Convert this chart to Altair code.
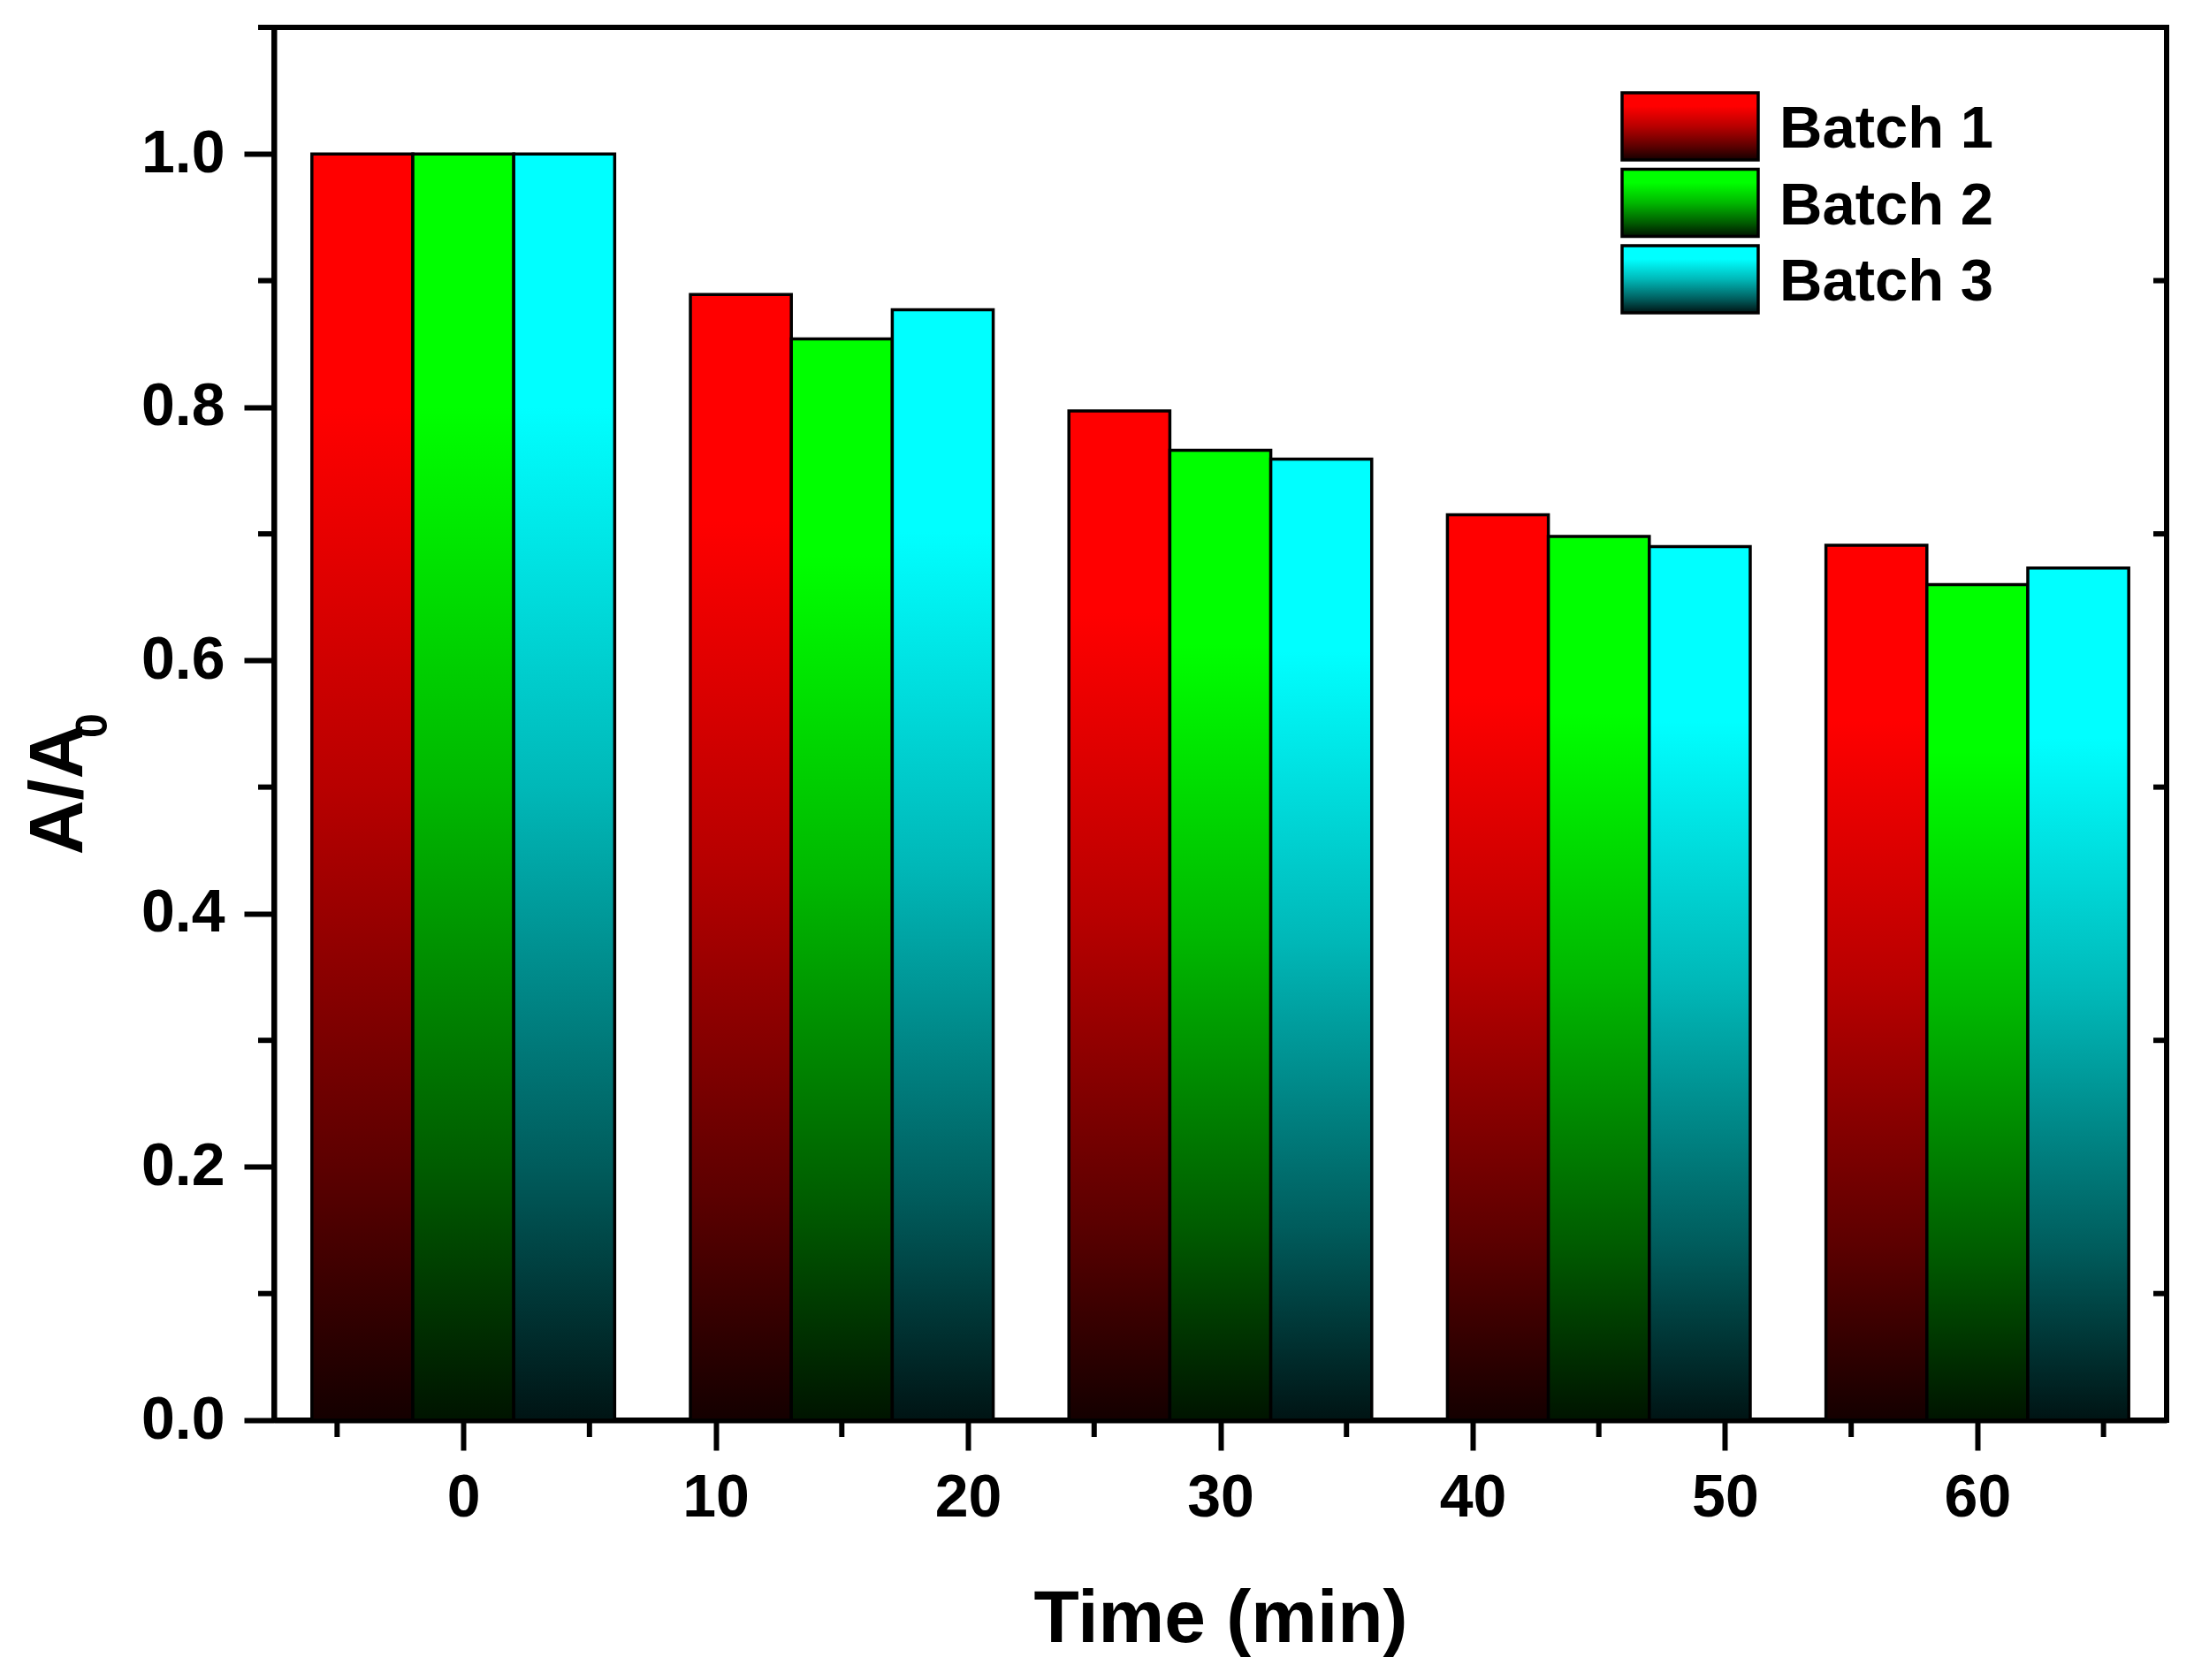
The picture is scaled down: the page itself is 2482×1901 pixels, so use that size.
import altair as alt
import pandas as pd

# ---------------- data ----------------
times = [0, 15, 30, 45, 60]
batch_names = ["Batch 1", "Batch 2", "Batch 3"]
batch1 = [1.000, 0.889, 0.797, 0.715, 0.691]
batch2 = [1.000, 0.854, 0.766, 0.698, 0.660]
batch3 = [1.000, 0.877, 0.759, 0.690, 0.673]
x_tick_values = [0, 10, 20, 30, 40, 50, 60]
y_tick_values = [0.0, 0.2, 0.4, 0.6, 0.8, 1.0]
x_minor_values = [-5, 5, 15, 25, 35, 45, 55, 65]
y_minor_values = [0.1, 0.3, 0.5, 0.7, 0.9, 1.1]
right_tick_values = [0.1, 0.3, 0.5, 0.7, 0.9]

# ---------------- style ----------------
base_rgb = [(255, 0, 0), (0, 255, 0), (0, 255, 255)]
bar_offsets = [-4, 0, 4]
bar_width = 4
FONT = "Liberation Sans"
W, H = 2141, 1576

shade_stops = [(0.0, 1.0), (0.2, 1.0), (0.5, 0.72), (0.8, 0.36), (1.0, 0.08)]


def gradient(rgb):
    stops = []
    for off, f in shade_stops:
        r, g, b = (int(round(c * f)) for c in rgb)
        stops.append({"offset": off, "color": f"#{r:02x}{g:02x}{b:02x}"})
    return {"gradient": "linear", "x1": 0, "y1": 0, "x2": 0, "y2": 1, "stops": stops}


xscale = alt.Scale(domain=[-7.5, 67.5], nice=False, zero=False)
yscale = alt.Scale(domain=[0, 1.1], nice=False, zero=False)

xaxis = alt.Axis(
    values=x_tick_values, format="d", title="Time (min)",
    titleFontSize=84, titleFont=FONT, titleFontWeight="bold", titleColor="black",
    titleY=250, titleBaseline="alphabetic",
    labelFontSize=68, labelFont=FONT, labelFontWeight="bold", labelColor="black",
    labelPadding=20, labelFlush=False, labelOverlap=False,
    tickSize=34, tickWidth=6, tickColor="black",
    domainWidth=6, domainColor="black", grid=False,
)
yaxis = alt.Axis(
    values=y_tick_values, format=".1f", title="A/A",
    titleFontSize=86, titleFont=FONT, titleFontWeight="bold", titleColor="black",
    titleAngle=270, titleAlign="left", titleBaseline="alphabetic",
    titleX=-218, titleY=936,
    labelFontSize=68, labelFont=FONT, labelFontWeight="bold", labelColor="black",
    labelPadding=22, labelFlush=False, labelOverlap=False,
    tickSize=34, tickWidth=6, tickColor="black",
    domainWidth=6, domainColor="black", grid=False,
)

layers = []
series = [batch1, batch2, batch3]
for i, (name, vals) in enumerate(zip(batch_names, series)):
    df = pd.DataFrame({"time": times, "value": vals, "batch": name})
    off = bar_offsets[i]
    layers.append(
        alt.Chart(df)
        .transform_calculate(
            xa=f"datum.time + ({off}) - {bar_width / 2}",
            xb=f"datum.time + ({off}) + {bar_width / 2}",
        )
        .mark_rect(fill=gradient(base_rgb[i]), stroke="black", strokeWidth=3.5)
        .encode(
            x=alt.X("xa:Q", scale=xscale, axis=xaxis),
            x2="xb:Q",
            y=alt.Y("value:Q", scale=yscale, axis=yaxis),
            y2=alt.datum(0),
        )
    )

# minor ticks (bottom)
layers.append(
    alt.Chart(pd.DataFrame({"v": x_minor_values}))
    .mark_rule(color="black", strokeWidth=6)
    .encode(x=alt.X("v:Q", scale=xscale, axis=xaxis), y=alt.value(H), y2=alt.value(H + 19))
)
# minor ticks (left)
layers.append(
    alt.Chart(pd.DataFrame({"v": y_minor_values}))
    .mark_rule(color="black", strokeWidth=6)
    .encode(y=alt.Y("v:Q", scale=yscale, axis=yaxis), x=alt.value(-18), x2=alt.value(0))
)
# inward ticks (right)
layers.append(
    alt.Chart(pd.DataFrame({"v": right_tick_values}))
    .mark_rule(color="black", strokeWidth=6)
    .encode(y=alt.Y("v:Q", scale=yscale, axis=yaxis), x=alt.value(W - 15), x2=alt.value(W))
)

# subscript of the y title
layers.append(
    alt.Chart(pd.DataFrame({"t": ["0"]}))
    .mark_text(angle=270, align="left", baseline="alphabetic", fontSize=50,
               font=FONT, fontWeight="bold", color="black")
    .encode(text="t:N", x=alt.value(-189), y=alt.value(804))
)

# legend
for i, name in enumerate(batch_names):
    top = 74 + i * 86.5
    ldf = pd.DataFrame({"batch": [name]})
    layers.append(
        alt.Chart(ldf)
        .mark_rect(fill=gradient(base_rgb[i]), stroke="black", strokeWidth=3.5)
        .encode(x=alt.value(1525), x2=alt.value(1679), y=alt.value(top), y2=alt.value(top + 76))
    )
    layers.append(
        alt.Chart(ldf)
        .mark_text(align="left", baseline="alphabetic", fontSize=67, font=FONT,
                   fontWeight="bold", color="black")
        .encode(text="batch:N", x=alt.value(1703), y=alt.value(top + 62))
    )

chart = (
    alt.layer(*layers)
    .properties(
        width=W, height=H,
        autosize=alt.AutoSizeParams(type="none"),
        padding={"left": 302, "top": 23, "right": 20, "bottom": 280},
        background="white",
    )
    .configure_view(stroke="black", strokeWidth=6)
)

chart.save("out.html", embed_options={"renderer": "svg", "actions": False})
